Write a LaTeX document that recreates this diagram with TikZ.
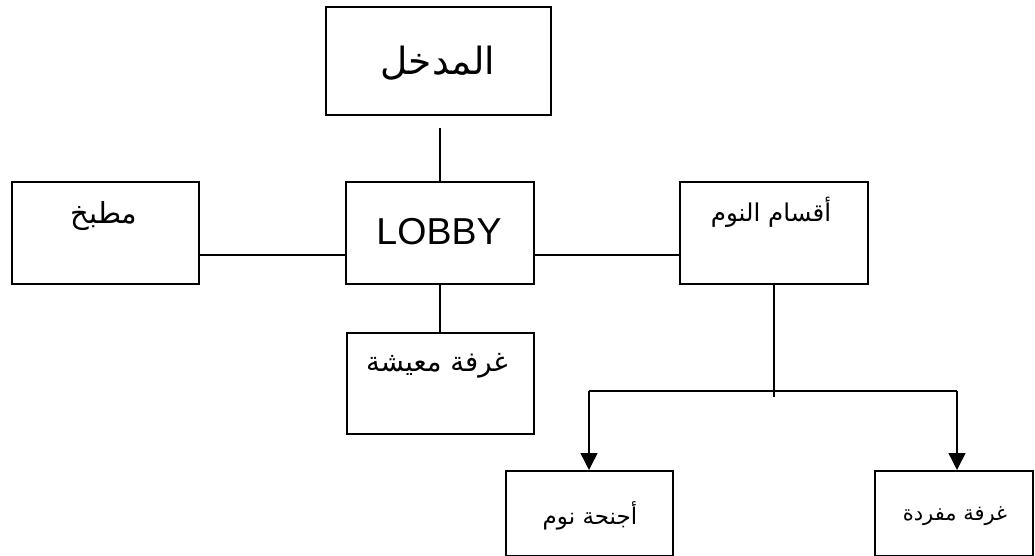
\documentclass[tikz,border=0pt]{standalone}
\usepackage{fontspec}
\setmainfont{Liberation Sans}
\newfontfamily\arabicfont[Script=Arabic]{DejaVu Sans}
\TeXXeTstate=1
\usetikzlibrary{arrows.meta}
\tikzset{
  box/.style={draw, line width=1.7pt, rectangle, inner sep=0pt, anchor=north west},
  lbl/.style={inner sep=0pt, anchor=center},
  conn/.style={line width=1.4pt},
  arr/.style={line width=1.4pt, -{Triangle[length=17pt,width=17pt]}}
}
\newcommand{\fs}[1]{\fontsize{#1}{#1}\selectfont}
\begin{document}
\begin{tikzpicture}[x=1pt,y=-1pt]
\useasboundingbox (0,0) rectangle (1035,556);
% boxes
\node[box, minimum width=225pt, minimum height=108pt] (entr) at (325,6) {};
\node[box, minimum width=187pt, minimum height=102pt] (kitchen) at (11,181) {};
\node[box, minimum width=188pt, minimum height=102pt] (lobby) at (345,181) {};
\node[box, minimum width=188pt, minimum height=102pt] (sleep) at (679,181) {};
\node[box, minimum width=187pt, minimum height=101pt] (living) at (346,332) {};
\node[box, minimum width=167pt, minimum height=85pt] (suites) at (505,470) {};
\node[box, minimum width=158pt, minimum height=85pt] (single) at (874,470) {};
% labels
\node[lbl] (tentr) at (438,63) {\arabicfont\fs{37.5pt}\beginR المدخل\endR};
\node[lbl] (tkitchen) at (104,216) {\arabicfont\fs{29pt}\beginR مطبخ\endR};
\node[lbl] (tlobby) at (439,232) {\fs{37.5pt}LOBBY};
\node[lbl] (tsleep) at (771,212) {\arabicfont\fs{24.5pt}\beginR أقسام النوم\endR};
\node[lbl] (tliving) at (437,366) {\arabicfont\fs{27.5pt}\beginR غرفة معيشة\endR};
\node[lbl] (tsuites) at (590,516) {\arabicfont\fs{23pt}\beginR أجنحة نوم\endR};
\node[lbl] (tsingle) at (955,516) {\arabicfont\fs{21pt}\beginR غرفة مفردة\endR};
% connectors
\coordinate (hy) at (0,255);
\coordinate (gap) at (0,128);
\coordinate (bend) at (0,397);
\coordinate (hl) at (589,391);
\coordinate (hr) at (957,391);
\draw[conn] (lobby.north |- gap) -- (lobby.north);
\draw[conn] (kitchen.east |- hy) -- (lobby.west |- hy);
\draw[conn] (lobby.east |- hy) -- (sleep.west |- hy);
\draw[conn] (lobby.south) -- (living.north -| lobby.south);
\draw[conn] (sleep.south) -- (sleep.south |- bend);
\draw[conn] (hl) -- (hr);
\draw[arr] (hl) -- (suites.north -| hl);
\draw[arr] (hr) -- (single.north -| hr);
\end{tikzpicture}
\end{document}
